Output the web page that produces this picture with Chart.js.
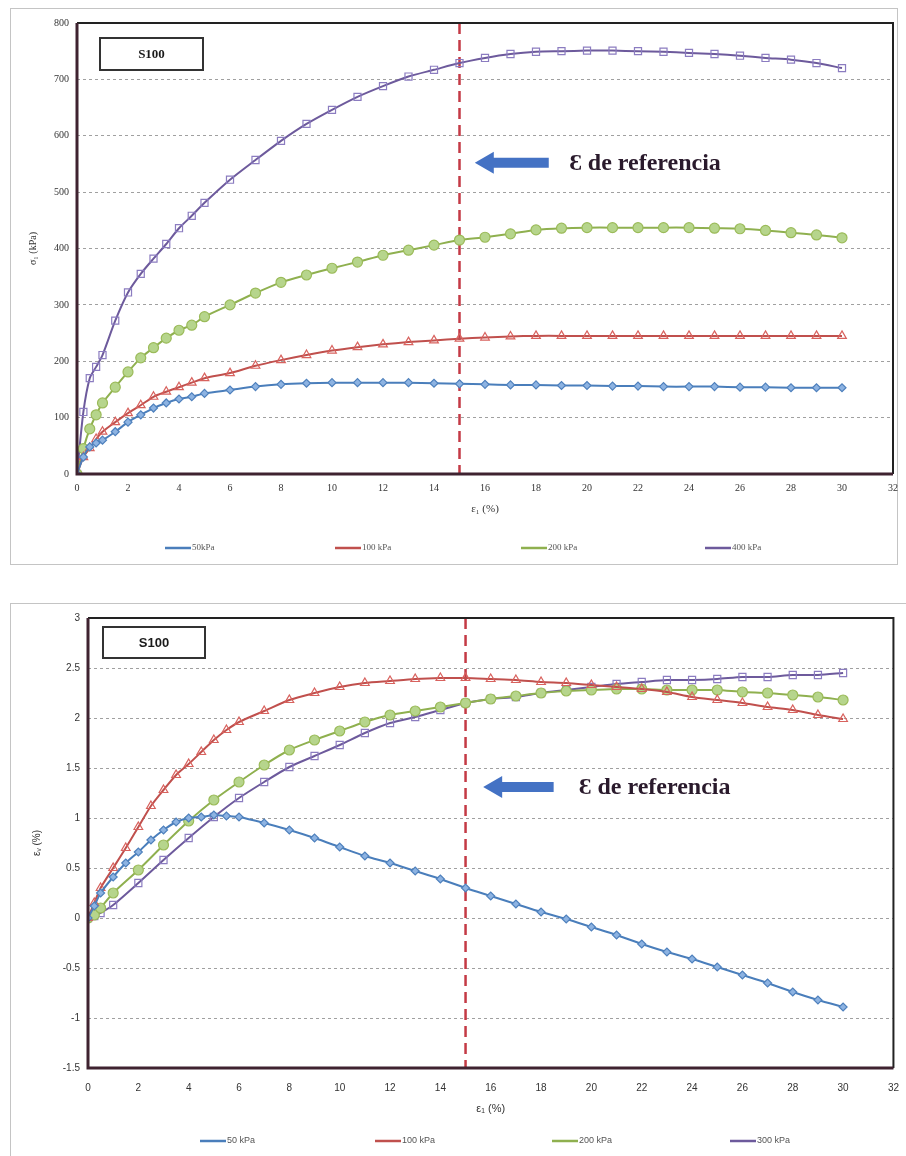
<!DOCTYPE html>
<html>
<head>
<meta charset="utf-8">
<script src="https://cdn.jsdelivr.net/npm/chart.js@4/dist/chart.umd.min.js"></script>
<style>
  html, body { margin: 0; padding: 0; background: #fff; }
  body { width: 906px; height: 1156px; position: relative; overflow: hidden; }
  .panel { position: absolute; border: 1px solid #c4c4c4; }
  #panel-top { left: 10px; top: 8px; width: 886px; height: 555px; }
  #panel-bot { left: 10px; top: 603px; width: 900px; height: 560px; }
  canvas { position: absolute; display: block; }
  #chart-top { left: 11px; top: 9px; }
  #chart-bot { left: 11px; top: 604px; }
</style>
</head>
<body>
<div class="panel" id="panel-top"></div>
<div class="panel" id="panel-bot"></div>
<canvas id="chart-top" width="895" height="555"></canvas>
<canvas id="chart-bot" width="902" height="551"></canvas>
<script>
// ---- top chart: sigma_1 vs axial strain ----
const strainTop = [0, 0.25, 0.5, 0.75, 1, 1.5, 2, 2.5, 3, 3.5, 4, 4.5, 5, 6, 7, 8, 9, 10, 11, 12, 13, 14, 15,
  16, 17, 18, 19, 20, 21, 22, 23, 24, 25, 26, 27, 28, 29, 30];
const sig50  = [0, 30, 48, 55, 60, 75, 92, 105, 117, 126, 133, 137, 143, 149, 155, 159, 161, 162, 162, 162, 162, 161, 160,
  159, 158, 158, 157, 157, 156, 156, 155, 155, 155, 154, 154, 153, 153, 153];
const sig100 = [0, 30, 46, 62, 75, 92, 108, 122, 137, 146, 154, 162, 170, 179, 192, 202, 211, 219, 225, 230, 234, 237, 240,
  242, 244, 245, 245, 245, 245, 245, 245, 245, 245, 245, 245, 245, 245, 245];
const sig200 = [0, 45, 80, 105, 126, 154, 181, 206, 224, 241, 255, 264, 279, 300, 321, 340, 353, 365, 376, 388, 397, 406, 415,
  420, 426, 433, 436, 437, 437, 437, 437, 437, 436, 435, 432, 428, 424, 419];
const sig400 = [0, 110, 170, 190, 211, 272, 322, 355, 382, 408, 436, 458, 481, 522, 557, 591, 621, 646, 669, 688, 705, 717, 729,
  738, 745, 749, 750, 751, 751, 750, 749, 747, 745, 742, 738, 735, 729, 720];
const labelsTop = ['50kPa', '100 kPa', '200 kPa', '400 kPa'];

// ---- bottom chart: volumetric strain vs axial strain ----
const strainVolA = [0, 0.25, 0.5, 1, 1.5, 2, 2.5, 3, 3.5, 4, 4.5, 5, 5.5, 6, 7, 8, 9, 10, 11, 12, 13, 14, 15,
  16, 17, 18, 19, 20, 21, 22, 23, 24, 25, 26, 27, 28, 29, 30];
const strainVolB = [0, 0.25, 0.5, 1, 2, 3, 4, 5, 6, 7, 8, 9, 10, 11, 12, 13, 14, 15,
  16, 17, 18, 19, 20, 21, 22, 23, 24, 25, 26, 27, 28, 29, 30];
const vol50  = [0, 0.12, 0.25, 0.41, 0.55, 0.66, 0.78, 0.88, 0.96, 1.0, 1.01, 1.03, 1.02, 1.01, 0.95, 0.88, 0.80, 0.71, 0.62, 0.55, 0.47, 0.39, 0.30,
  0.22, 0.14, 0.06, -0.01, -0.09, -0.17, -0.26, -0.34, -0.41, -0.49, -0.57, -0.65, -0.74, -0.82, -0.89];
const vol100 = [0, 0.15, 0.3, 0.5, 0.7, 0.91, 1.12, 1.28, 1.43, 1.54, 1.66, 1.78, 1.88, 1.96, 2.07, 2.18, 2.25, 2.31, 2.35, 2.37, 2.39, 2.40, 2.40,
  2.39, 2.38, 2.36, 2.35, 2.33, 2.31, 2.29, 2.26, 2.21, 2.18, 2.15, 2.11, 2.08, 2.03, 1.99];
const vol200 = [0, 0.03, 0.1, 0.25, 0.48, 0.73, 0.97, 1.18, 1.36, 1.53, 1.68, 1.78, 1.87, 1.96, 2.03, 2.07, 2.11, 2.15,
  2.19, 2.22, 2.25, 2.27, 2.28, 2.29, 2.29, 2.28, 2.28, 2.28, 2.26, 2.25, 2.23, 2.21, 2.18];
const vol300 = [0, 0.02, 0.05, 0.13, 0.35, 0.58, 0.80, 1.01, 1.20, 1.36, 1.51, 1.62, 1.73, 1.85, 1.95, 2.01, 2.08, 2.15,
  2.19, 2.21, 2.25, 2.28, 2.31, 2.34, 2.36, 2.38, 2.38, 2.39, 2.41, 2.41, 2.43, 2.43, 2.45];
const labelsBot = ['50 kPa', '100 kPa', '200 kPa', '300 kPa'];

const REF_STRAIN = 15;
const sampleId = 'S100';
const refText = 'Ɛ de referencia';

const pts = (xs, ys) => xs.map((x, i) => ({ x, y: ys[i] }));

// marker styles per confining pressure (Excel 2007 look)
const styles = [
  { line: '#4a7ebb', point: 'rectRot', bg: '#8db3e2', border: '#4f81bd', r: 4 },
  { line: '#c0504d', point: 'triangle', bg: 'rgba(255,255,255,0)', border: '#d8625e', r: 5 },
  { line: '#8fb04f', point: 'circle', bg: '#b6d58c', border: '#9bbb59', r: 5 },
  { line: '#6d5a9c', point: 'rect', bg: 'rgba(255,255,255,0)', border: '#8b7cc0', r: 5 }
];

function makeSets(series, labels) {
  return series.map((s, i) => ({
    label: labels[i],
    data: s,
    showLine: true,
    tension: 0.25,
    borderColor: styles[i].line,
    backgroundColor: styles[i].line,
    borderWidth: 2,
    pointStyle: styles[i].point,
    pointRadius: styles[i].r,
    pointBorderWidth: 1.2,
    pointBorderColor: styles[i].border,
    pointBackgroundColor: styles[i].bg
  }));
}

// frame, S100 box, reference line, arrow and the spread-out legend row
const decor = {
  id: 'decor',
  beforeDatasetsDraw(chart) {
    const { ctx, chartArea: a, scales } = chart;
    const xr = scales.x.getPixelForValue(REF_STRAIN);
    ctx.save();
    ctx.strokeStyle = '#c43a45';
    ctx.lineWidth = 2.5;
    ctx.setLineDash([11, 6]);
    ctx.beginPath(); ctx.moveTo(xr, a.top); ctx.lineTo(xr, a.bottom); ctx.stroke();
    ctx.restore();
  },
  afterDraw(chart, args, o) {
    const { ctx, chartArea: a, scales } = chart;
    ctx.save();
    // top / right frame
    ctx.strokeStyle = '#222';
    ctx.lineWidth = 2;
    ctx.beginPath();
    ctx.moveTo(a.left, a.top); ctx.lineTo(a.right, a.top); ctx.lineTo(a.right, a.bottom);
    ctx.stroke();
    // left / bottom axes
    ctx.strokeStyle = '#3f2330';
    ctx.lineWidth = 3;
    ctx.beginPath();
    ctx.moveTo(a.left, a.top); ctx.lineTo(a.left, a.bottom); ctx.lineTo(a.right, a.bottom);
    ctx.stroke();

    // sample box
    const bx = a.left + o.box[0], by = a.top + o.box[1];
    ctx.fillStyle = '#fff';
    ctx.fillRect(bx, by, o.box[2], o.box[3]);
    ctx.strokeStyle = '#333';
    ctx.lineWidth = 2;
    ctx.strokeRect(bx, by, o.box[2], o.box[3]);
    ctx.fillStyle = '#1a1a1a';
    ctx.font = o.boxFont;
    ctx.textAlign = 'center';
    ctx.textBaseline = 'middle';
    ctx.fillText(sampleId, bx + o.box[2] / 2, by + o.box[3] / 2 + 1);

    // arrow
    const x0 = scales.x.getPixelForValue(o.arrow[0]);
    const x1 = scales.x.getPixelForValue(o.arrow[1]);
    const yA = scales.y.getPixelForValue(o.arrow[2]);
    const head = 19;
    ctx.fillStyle = '#4472c4';
    ctx.beginPath();
    ctx.moveTo(x0, yA);
    ctx.lineTo(x0 + head, yA - 11);
    ctx.lineTo(x0 + head, yA - 5);
    ctx.lineTo(x1, yA - 5);
    ctx.lineTo(x1, yA + 5);
    ctx.lineTo(x0 + head, yA + 5);
    ctx.lineTo(x0 + head, yA + 11);
    ctx.closePath();
    ctx.fill();

    ctx.fillStyle = '#2a1a2c';
    ctx.font = 'bold 24px "Liberation Serif", "DejaVu Serif", serif';
    ctx.textAlign = 'left';
    ctx.textBaseline = 'middle';
    ctx.fillText(refText, scales.x.getPixelForValue(o.arrow[3]), yA + 1);

    // legend row (Excel spreads the entries across the full width)
    ctx.font = o.legendFont;
    ctx.textBaseline = 'middle';
    chart.data.datasets.forEach((ds, i) => {
      const lx = o.legendX[i];
      ctx.strokeStyle = ds.borderColor;
      ctx.lineWidth = 2.5;
      ctx.beginPath(); ctx.moveTo(lx, o.legendY); ctx.lineTo(lx + 26, o.legendY); ctx.stroke();
      ctx.fillStyle = '#555';
      ctx.fillText(ds.label, lx + 27, o.legendY);
    });
    ctx.restore();
  }
};

const tickFmt = v => String(Math.round(v * 10) / 10);

function makeChart(id, cfg) {
  return new Chart(document.getElementById(id), {
    type: 'scatter',
    data: { datasets: cfg.sets },
    plugins: [decor],
    options: {
      responsive: false,
      animation: false,
      layout: { padding: cfg.padding },
      plugins: {
        legend: { display: false },
        tooltip: { enabled: false },
        decor: cfg.decor
      },
      scales: {
        x: {
          type: 'linear', min: 0, max: 32,
          ticks: { stepSize: 2, color: '#333', padding: cfg.xTickPad, font: { size: 10, family: cfg.font } },
          grid: { display: false, drawTicks: false },
          border: { display: false },
          title: { display: true, text: 'ε₁ (%)', color: '#333', font: { size: 11, family: cfg.font }, padding: cfg.xTitlePad },
          afterFit: s => { s.height = cfg.xHeight; }
        },
        y: {
          type: 'linear', min: cfg.yMin, max: cfg.yMax,
          ticks: { stepSize: cfg.yStep, color: '#333', padding: 8, font: { size: 10, family: cfg.font }, callback: tickFmt },
          grid: { color: '#a0a0a0', lineWidth: 1, drawTicks: false },
          border: { display: false, dash: [3, 3] },
          title: { display: true, text: cfg.yTitle, color: '#333', font: { size: 10, family: cfg.font }, padding: cfg.yTitlePad },
          afterFit: s => { s.width = cfg.yWidth; }
        }
      }
    }
  });
}

makeChart('chart-top', {
  sets: makeSets([pts(strainTop, sig50), pts(strainTop, sig100), pts(strainTop, sig200), pts(strainTop, sig400)], labelsTop),
  font: '"Liberation Serif", serif',
  padding: { top: 14, right: 13, bottom: 26, left: 0 },
  xHeight: 64, xTickPad: 8, xTitlePad: { top: 4, bottom: 22 },
  yWidth: 66, yMin: 0, yMax: 800, yStep: 100, yTitle: 'σ₁ (kPa)', yTitlePad: { top: 16, bottom: 0 },
  decor: {
    box: [23, 15, 103, 32], boxFont: 'bold 13px "Liberation Serif", serif',
    arrow: [15.6, 18.5, 552, 19.3],
    legendFont: '9px "Liberation Serif", serif', legendX: [154, 324, 510, 694], legendY: 539
  }
});

makeChart('chart-bot', {
  sets: makeSets([pts(strainVolA, vol50), pts(strainVolA, vol100), pts(strainVolB, vol200), pts(strainVolB, vol300)], labelsBot),
  font: '"Liberation Sans", sans-serif',
  padding: { top: 13, right: 6, bottom: 23, left: 0 },
  xHeight: 64, xTickPad: 14, xTitlePad: { top: 4, bottom: 16 },
  yWidth: 77, yMin: -1.5, yMax: 3, yStep: 0.5, yTitle: 'εᵥ (%)', yTitlePad: { top: 20, bottom: 0 },
  decor: {
    box: [15, 9, 102, 31], boxFont: 'bold 13px "Liberation Sans", sans-serif',
    arrow: [15.7, 18.5, 1.31, 19.5],
    legendFont: '9px "Liberation Sans", sans-serif', legendX: [189, 364, 541, 719], legendY: 537
  }
});
</script>
</body>
</html>
